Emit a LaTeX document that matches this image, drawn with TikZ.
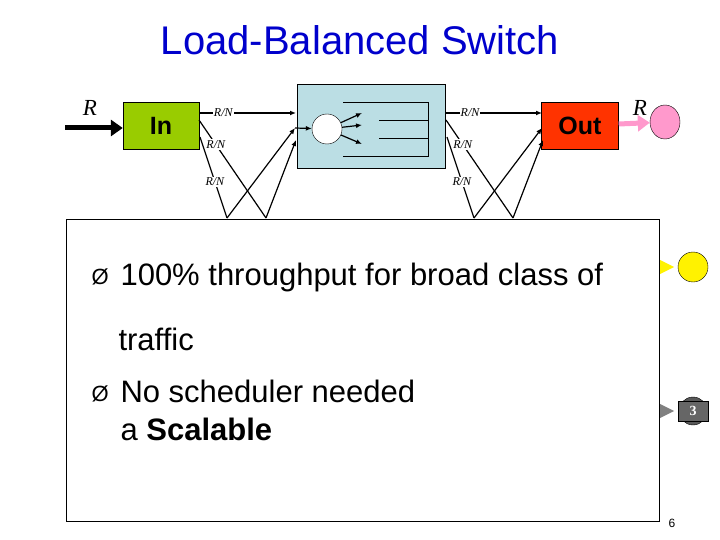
\documentclass[tikz,border=0pt]{standalone}
\usepackage{fontspec}
\setmainfont{Liberation Sans}
\newfontfamily\serif{Liberation Serif}
\usetikzlibrary{arrows.meta,shapes.geometric}
\definecolor{ttlblue}{RGB}{0,0,204}
\definecolor{ingreen}{RGB}{153,204,0}
\definecolor{outred}{RGB}{255,51,0}
\definecolor{swblue}{RGB}{187,222,228}
\definecolor{pinkc}{RGB}{255,153,204}
\begin{document}
\begin{tikzpicture}[x=1pt,y=-1pt,
  rn/.style={font=\serif\itshape\fontsize{12}{12}\selectfont,fill=white,inner sep=1pt},
  ln/.style={line width=1.2pt,-{Latex[length=6pt,width=5pt]}},
  body/.style={anchor=base west,font=\fontsize{31}{31}\selectfont}]
\useasboundingbox (0,0) rectangle (720,540);
\node[font=\fontsize{40}{40}\selectfont,text=ttlblue] (title) at (360,40) {Load-Balanced Switch};

% switch
\node[draw,fill=swblue,minimum width=148pt,minimum height=84pt,inner sep=0] (sw) at (371,126) {};
\node[draw,fill=white,ellipse,minimum width=30pt,minimum height=30pt,inner sep=0] (c) at (327,129) {};
\draw (343,102) -- (428,102) -- (428,156) -- (343,156);
\draw (379,120) -- (428,120) (379,138) -- (428,138);
\draw[ln] (c) -- (362,113);
\draw[ln] (c) -- (362,125);
\draw[ln] (c) -- (362,144);

\node[draw,fill=ingreen,minimum width=76pt,minimum height=47pt,font=\bfseries\fontsize{25}{25}\selectfont] (in) at (161,126) {In};
\node[draw,fill=outred,minimum width=77pt,minimum height=47pt,font=\bfseries\fontsize{25}{25}\selectfont] (out) at (580,126) {Out};

\coordinate (a1) at (227,218); \coordinate (a2) at (266,218);
\coordinate (b1) at (474,218); \coordinate (b2) at (513,218);
\coordinate (r0) at (65,128);
\coordinate (p0) at (650,124);

% input side
\draw[ln] (199,113) -- node[rn,pos=0.25]{R/N} (296,113);
\draw[line width=1.2pt] (199,120) -- node[rn,pos=0.25]{R/N} (a2);
\draw[line width=1.2pt] (200,137) -- node[rn,pos=0.55]{R/N} (a1);
\draw[ln] (a1) -- (295,128);
\draw[ln] (a2) -- (296,140);
\draw[ln] (295,128) -- (c);
% output side
\draw[ln] (446,113) -- node[rn,pos=0.25]{R/N} (542,113);
\draw[line width=1.2pt] (446,120) -- node[rn,pos=0.25]{R/N} (b2);
\draw[line width=1.2pt] (447,137) -- node[rn,pos=0.55]{R/N} (b1);
\draw[ln] (b1) -- (542,128);
\draw[ln] (b2) -- (543,140);

% rate arrows
\draw[line width=5pt,-{Triangle[length=12pt,width=16pt]}] (r0) -- (in.west |- r0);
\node[font=\serif\itshape\fontsize{23}{23}\selectfont] (rin) at (90,108) {R};
\node[draw,fill=pinkc,ellipse,minimum width=30pt,minimum height=34pt,inner sep=0] (pk) at (665,122) {};
\draw[pinkc,line width=5pt,-{Triangle[length=12pt,width=16pt]}] (out.east |- p0) -- (pk);
\node[font=\serif\itshape\fontsize{23}{23}\selectfont] (rout) at (640,108) {R};

% yellow and icon
\node[draw,fill=yellow,circle,minimum size=30pt,inner sep=0] (ye) at (693,267) {};
\fill[yellow] (660,260) -- (674,267) -- (660,274) -- cycle;
\fill[gray] (660,404) -- (674,411) -- (660,418) -- cycle;
\node[draw,fill=gray!70!black,circle,minimum size=28pt,inner sep=0] (ic) at (693,411) {};
\node[draw,fill=gray!80!black,minimum width=30pt,minimum height=20pt,inner sep=0,text=white,font=\serif\bfseries\fontsize{14}{14}\selectfont] (i3) at (693,411) {3};

% text box
\node[draw,fill=white,minimum width=593pt,minimum height=302pt,inner sep=0] (box) at (362.5,370.5) {};
\node[body,font=\fontsize{22}{22}\selectfont] (b1a) at (88,284) {Ø};
\node[body] (t1) at (117,285) {100\% throughput for broad class of};
\node[body] (t2) at (115,350) {traffic};
\node[body,font=\fontsize{22}{22}\selectfont] (b2a) at (88,401) {Ø};
\node[body] (t3) at (117,402) {No scheduler needed};
\node[body] (t4) at (117,440) {a \textbf{Scalable}};
\node[font=\fontsize{12}{12}\selectfont] (pg) at (672,523) {6};
\end{tikzpicture}
\end{document}
